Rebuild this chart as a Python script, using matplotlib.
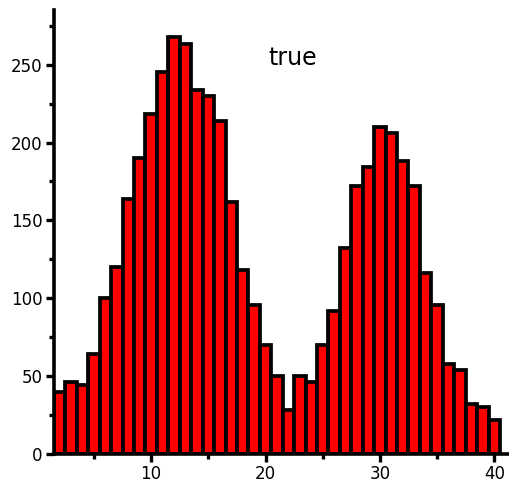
import matplotlib
matplotlib.use("Agg")
import matplotlib.pyplot as plt
from matplotlib.ticker import MultipleLocator

bins = list(range(2, 41))
counts = [40, 46, 44, 64, 100, 120, 164, 190, 218, 245, 268, 263, 234, 230, 214, 162,
          118, 96, 70, 50, 28, 50, 46, 70, 92, 132, 172, 184, 210, 206, 188, 172,
          116, 96, 58, 54, 32, 30, 22]
x_ticks = [10, 20, 30, 40]
y_ticks = [0, 50, 100, 150, 200, 250]
label_text = "true"

fig = plt.figure(figsize=(5.09, 4.83), dpi=100)
ax = fig.add_axes([0.106, 0.060, 0.892, 0.919])

ax.bar(bins, counts, width=1.0, color="#ff0000", edgecolor="black", linewidth=2.7)

ax.set_xlim(1.5, 41.2)
ax.set_ylim(0, 285)
ax.set_xticks(x_ticks)
ax.set_yticks(y_ticks)
ax.xaxis.set_minor_locator(MultipleLocator(5))
ax.yaxis.set_minor_locator(MultipleLocator(25))

for s in ["top", "right"]:
    ax.spines[s].set_visible(False)
for s in ["left", "bottom"]:
    ax.spines[s].set_linewidth(2.6)

ax.tick_params(which="major", direction="out", length=6, width=2.4, labelsize=12, pad=2)
ax.tick_params(which="minor", direction="out", length=3.5, width=2.4)

ax.text(22.4, 254, label_text, fontsize=17, ha="center", va="center")

fig.savefig("out.png", dpi=100)
